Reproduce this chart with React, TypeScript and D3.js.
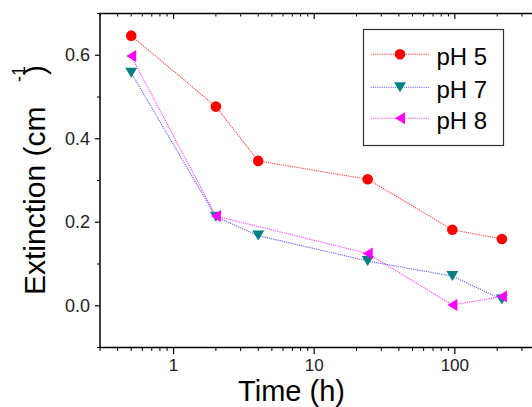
import { useRef, useEffect } from 'react';
import * as d3 from 'd3';

const times5 = [0.5, 2, 4, 24, 96, 216];
const ph5 = [0.647, 0.477, 0.347, 0.303, 0.182, 0.16];
const times7 = [0.5, 2, 4, 24, 96, 216];
const ph7 = [0.558, 0.213, 0.168, 0.107, 0.071, 0.015];
const times8 = [0.5, 2, 24, 96, 216];
const ph8 = [0.598, 0.215, 0.125, 0.002, 0.022];
const xMajor = [1, 10, 100];
const yMajor = [0, 0.2, 0.4, 0.6];
const yMinor = [-0.1, 0.1, 0.3, 0.5, 0.7];
const legendNames = ['pH 5', 'pH 7', 'pH 8'];

const App = () => {
  const ref = useRef<SVGSVGElement>(null);

  useEffect(() => {
    const svg = d3.select(ref.current);
    svg.selectAll('*').remove();

    const left = 100, top = 13.5, bottom = 347.5;
    const decade = 140.65;
    const x = d3.scaleLog()
      .domain([0.3, 500])
      .range([left, left + Math.log10(500 / 0.3) * decade]);
    const y = d3.scaleLinear().domain([-0.1, 0.7]).range([bottom, top]);

    const font = 'Liberation Sans, Arial, sans-serif';

    // x minor ticks
    const xMinor: number[] = [];
    [0.1, 1, 10, 100].forEach(b => {
      for (let k = 1; k <= 9; k++) {
        const v = b * k;
        if (v >= 0.3 && v <= 500 && !xMajor.includes(v)) xMinor.push(v);
      }
    });

    const axis = svg.append('g').attr('stroke', '#000').attr('fill', 'none');
    axis.append('line').attr('x1', left).attr('x2', 532).attr('y1', bottom).attr('y2', bottom).attr('stroke-width', 1.5);
    axis.append('line').attr('x1', left).attr('x2', 532).attr('y1', top).attr('y2', top).attr('stroke-width', 1.5);
    axis.append('line').attr('x1', left).attr('x2', left).attr('y1', top).attr('y2', bottom).attr('stroke-width', 1.5);

    xMinor.forEach(v => {
      axis.append('line').attr('x1', x(v)).attr('x2', x(v)).attr('y1', bottom).attr('y2', bottom + 3.5).attr('stroke-width', 1);
      axis.append('line').attr('x1', x(v)).attr('x2', x(v)).attr('y1', top).attr('y2', top + 3).attr('stroke-width', 1);
    });
    xMajor.forEach(v => {
      axis.append('line').attr('x1', x(v)).attr('x2', x(v)).attr('y1', bottom).attr('y2', bottom + 6.5).attr('stroke-width', 1.2);
      axis.append('line').attr('x1', x(v)).attr('x2', x(v)).attr('y1', top).attr('y2', top + 5.5).attr('stroke-width', 1.2);
    });
    yMinor.forEach(v => {
      axis.append('line').attr('x1', left - 3).attr('x2', left).attr('y1', y(v)).attr('y2', y(v)).attr('stroke-width', 1);
    });
    yMajor.forEach(v => {
      axis.append('line').attr('x1', left - 5).attr('x2', left).attr('y1', y(v)).attr('y2', y(v)).attr('stroke-width', 1.2);
    });

    svg.append('g').selectAll('text').data(xMajor).enter().append('text')
      .attr('x', d => x(d)).attr('y', 371)
      .attr('text-anchor', 'middle')
      .attr('font-family', font).attr('font-size', 17).attr('fill', '#222')
      .text(d => String(d));

    svg.append('g').selectAll('text').data(yMajor).enter().append('text')
      .attr('x', 90).attr('y', d => y(d) + 6)
      .attr('text-anchor', 'end')
      .attr('font-family', font).attr('font-size', 18).attr('fill', '#222')
      .text(d => d3.format('.1f')(d));

    svg.append('text')
      .attr('x', 291.5).attr('y', 401)
      .attr('text-anchor', 'middle')
      .attr('font-family', font).attr('font-size', 29).attr('fill', '#000')
      .text('Time (h)');

    const yl = svg.append('g').attr('transform', 'translate(45, 295) rotate(-90)')
      .attr('font-family', font).attr('fill', '#000');
    yl.append('text').attr('x', 0).attr('y', 0).attr('font-size', 30).text('Extinction (cm');
    yl.append('text').attr('x', 213).attr('y', -20).attr('font-size', 18).text('-1');
    yl.append('text').attr('x', 220).attr('y', 0).attr('font-size', 30).text(')');

    const series = [
      { t: times5, v: ph5, fill: '#ff0000', line: '#ff4040', shape: 'circle' },
      { t: times7, v: ph7, fill: '#008080', line: '#6060ff', shape: 'down' },
      { t: times8, v: ph8, fill: '#ff00ff', line: '#ff40ff', shape: 'left' },
    ];

    const marker = (g: any, shape: string, cx: number, cy: number, fill: string) => {
      if (shape === 'circle') {
        g.append('circle').attr('cx', cx).attr('cy', cy).attr('r', 5.3).attr('fill', fill);
      } else if (shape === 'down') {
        g.append('path')
          .attr('d', `M${cx - 6},${cy - 5}L${cx + 6},${cy - 5}L${cx},${cy + 5}Z`)
          .attr('fill', fill);
      } else {
        g.append('path')
          .attr('d', `M${cx + 5},${cy - 6}L${cx + 5},${cy + 6}L${cx - 5},${cy}Z`)
          .attr('fill', fill);
      }
    };

    const lineGen = d3.line<[number, number]>().x(d => x(d[0])).y(d => y(d[1]));

    series.forEach(s => {
      const g = svg.append('g');
      const pts = s.t.map((t, i) => [t, s.v[i]] as [number, number]);
      g.append('path').attr('d', lineGen(pts))
        .attr('fill', 'none').attr('stroke', s.line)
        .attr('stroke-width', 1.1).attr('stroke-dasharray', '1.2,1');
      pts.forEach(p => marker(g, s.shape, x(p[0]), y(p[1]), s.fill));
    });

    // legend
    const lg = svg.append('g');
    lg.append('rect').attr('x', 363.5).attr('y', 29.5).attr('width', 140).attr('height', 116)
      .attr('fill', '#fff').attr('stroke', '#333').attr('stroke-width', 1.2);
    const rows = [54.3, 87.3, 118.3];
    series.forEach((s, i) => {
      lg.append('line').attr('x1', 370.7).attr('x2', 429.3).attr('y1', rows[i]).attr('y2', rows[i])
        .attr('stroke', s.line).attr('stroke-width', 1.1).attr('stroke-dasharray', '1.2,1');
      marker(lg, s.shape, 400, rows[i], s.fill);
      lg.append('text').attr('x', 436.5).attr('y', rows[i] + 10.5)
        .attr('font-family', font).attr('font-size', 24).attr('fill', '#000')
        .text(legendNames[i]);
    });
  }, []);

  return (
    <svg ref={ref} width={532} height={407}
      style={{ position: 'absolute', left: 0, top: 0, background: '#fff' }} />
  );
};

export default App;
